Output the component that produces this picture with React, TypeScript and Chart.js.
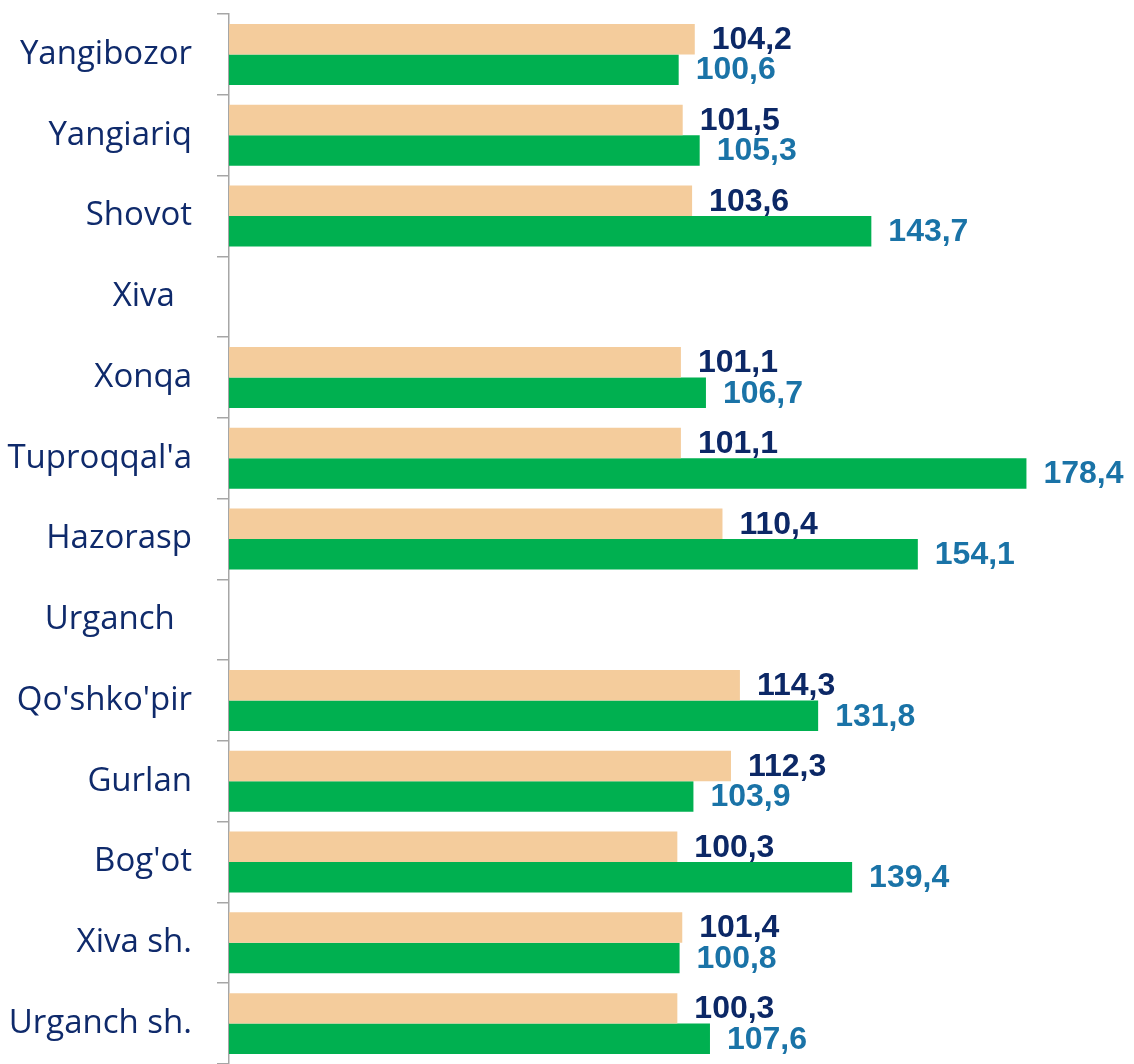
import React, { useEffect, useRef } from "react";
import { Chart, registerables } from "chart.js";

Chart.register(...registerables);

const categories = [
  "Yangibozor",
  "Yangiariq",
  "Shovot",
  "Xiva  ",
  "Xonqa",
  "Tuproqqal'a",
  "Hazorasp",
  "Urganch  ",
  "Qo'shko'pir",
  "Gurlan",
  "Bog'ot",
  "Xiva sh.",
  "Urganch sh.",
];

const seriesA: (number | null)[] = [104.2, 101.5, 103.6, null, 101.1, 101.1, 110.4, null, 114.3, 112.3, 100.3, 101.4, 100.3];
const seriesB: (number | null)[] = [100.6, 105.3, 143.7, null, 106.7, 178.4, 154.1, null, 131.8, 103.9, 139.4, 100.8, 107.6];

const xMin = 0;
const xMax = 200;

const valueLabelPlugin = {
  id: "valueLabels",
  afterDatasetsDraw(chart: any) {
    const ctx = chart.ctx;
    ctx.save();
    ctx.font = "bold 32px 'Liberation Sans', Arial, sans-serif";
    ctx.textAlign = "left";
    ctx.textBaseline = "middle";
    chart.data.datasets.forEach((ds: any, di: number) => {
      const meta = chart.getDatasetMeta(di);
      ctx.fillStyle = ds.labelColor;
      meta.data.forEach((el: any, i: number) => {
        const v = ds.data[i];
        if (v === null || v === undefined) return;
        const txt = v.toFixed(1).replace(".", ",");
        ctx.fillText(txt, el.x + 17, el.y + 1);
      });
    });
    ctx.restore();
  },
};

export default function App() {
  const canvasRef = useRef<HTMLCanvasElement | null>(null);

  useEffect(() => {
    if (!canvasRef.current) return;
    const chart = new Chart(canvasRef.current, {
      type: "bar",
      data: {
        labels: categories,
        datasets: [
          {
            label: "A",
            data: seriesA,
            backgroundColor: "#F4CC9C",
            borderWidth: 0,
            barPercentage: 1,
            categoryPercentage: 0.755,
            labelColor: "#0C2866",
          } as any,
          {
            label: "B",
            data: seriesB,
            backgroundColor: "#00B050",
            borderWidth: 0,
            barPercentage: 1,
            categoryPercentage: 0.755,
            labelColor: "#1A73A7",
          } as any,
        ],
      },
      options: {
        indexAxis: "y",
        responsive: false,
        animation: false,
        layout: { padding: { top: 14, right: 11, bottom: 0, left: 0 } },
        plugins: {
          legend: { display: false },
          tooltip: { enabled: false },
        },
        scales: {
          x: {
            display: false,
            min: xMin,
            max: xMax,
          },
          y: {
            afterFit: (scale: any) => {
              scale.width = 229;
              scale.paddingTop = 0;
              scale.paddingBottom = 0;
            },
            grid: {
              display: true,
              drawOnChartArea: false,
              drawTicks: true,
              tickLength: 12,
              color: "#A6A6A6",
              lineWidth: 1.5,
              offset: true,
            },
            border: { display: true, color: "#A6A6A6", width: 1.5 },
            ticks: {
              color: "#0F2A6B",
              padding: 25,
              font: { family: "'Open Sans', sans-serif", size: 33 },
            },
          },
        },
      },
      plugins: [valueLabelPlugin],
    });
    return () => chart.destroy();
  }, []);

  return (
    <div style={{ position: "absolute", left: 0, top: 0, width: 1134, height: 1064, background: "#fff" }}>
      <canvas ref={canvasRef} width={1134} height={1064} style={{ display: "block" }} />
    </div>
  );
}
